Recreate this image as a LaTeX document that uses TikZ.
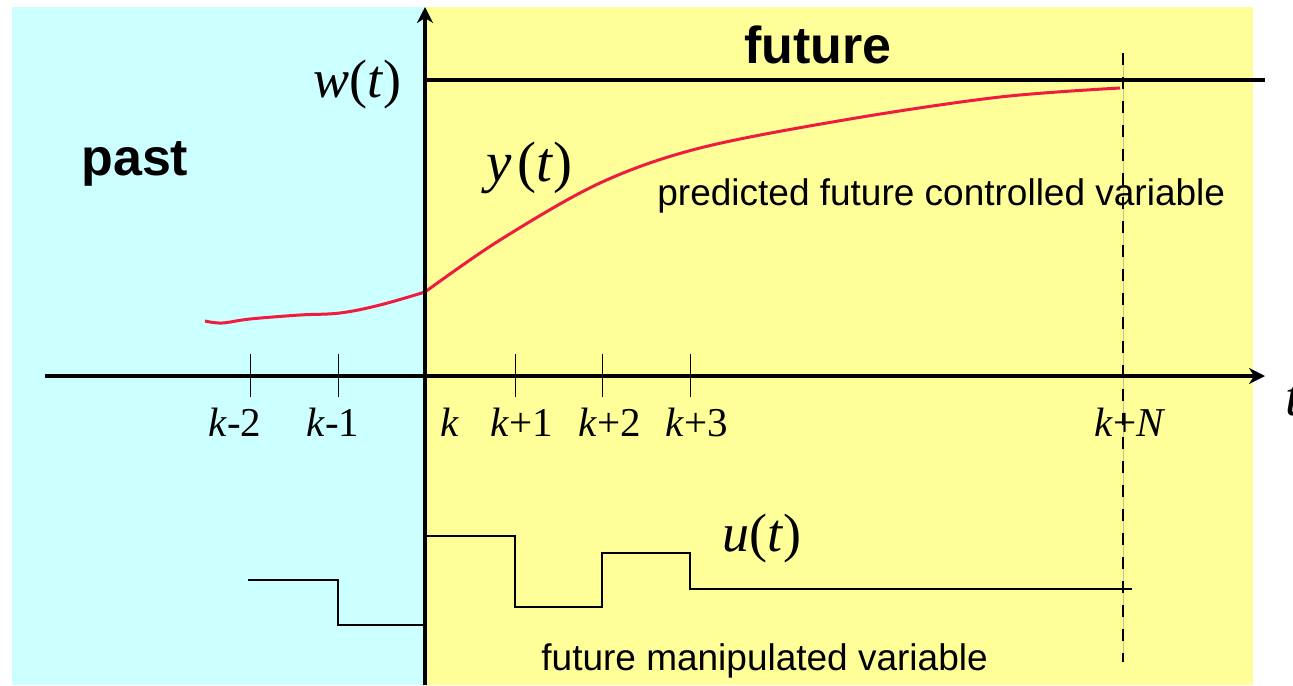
\documentclass[tikz,border=0pt]{standalone}
\usepackage{fontspec}
\setmainfont{Liberation Serif}
\setsansfont{Liberation Sans}
\usetikzlibrary{arrows.meta}

\definecolor{pastbg}{HTML}{CCFFFF}
\definecolor{futurebg}{HTML}{FFFF99}
\definecolor{predred}{HTML}{EE1D3F}
\definecolor{faintline}{HTML}{C8C27A}

\newcommand{\fsize}[1]{\fontsize{#1}{#1}\selectfont}

\begin{document}
\begin{tikzpicture}[x=0.5pt,y=-0.5pt,
  axis/.style={line width=2pt,-{Stealth[length=8pt,width=8pt,inset=2.5pt]}},
  setpoint/.style={line width=2pt},
  tick/.style={line width=0.5pt},
  horizon/.style={line width=0.9pt,dash pattern=on 6pt off 6pt},
  output/.style={predred,line width=1.5pt,line join=round},
  input/.style={line width=0.75pt},
  txt/.style={inner sep=0pt,anchor=base west},
  region/.style={txt,font=\sffamily\bfseries\fsize{26}},
  note/.style={txt,font=\sffamily\fsize{18.5}},
  signal/.style={txt,font=\fsize{27}},
  klabel/.style={inner sep=0pt,anchor=base,font=\fsize{20.5}}
]
\useasboundingbox (0,0) rectangle (1293,685);

% past / future areas
\fill[pastbg]   (12,7)  rectangle (425,685);
\fill[futurebg] (425,7) rectangle (1253,685);

% prediction horizon
\coordinate (hztop) at (1123,53);
\coordinate (hzbot) at (1123,662);
\draw[faintline,line width=0.3pt] (hztop) -- (hzbot);
\draw[horizon] (hztop) -- (hzbot);

% controlled variable y(t)
\draw[output] plot[smooth,tension=0.6] coordinates
  {(205,321) (222,323) (250,319) (300,315) (340,313) (380,305) (425,292)};
\draw[output] plot[smooth,tension=0.55] coordinates
  {(425,292) (500,240) (600,183) (700,148) (850,119) (1000,97) (1120,88)};

% manipulated variable u(t)
\draw[input] (248,580) -| (338,625) -- (425,625);
\draw[input] (425,536) -| (515,607) -| (602,553) -| (690,589) -- (1132,589);

% axes and reference w(t)
\coordinate (tmin) at (45,376);
\coordinate (tmax) at (1265,376);
\coordinate (ybot) at (425,685);
\coordinate (ytop) at (425,7);
\coordinate (wstart) at (425,80);
\coordinate (wend) at (1265,80);
\draw[setpoint] (wstart) -- (wend);
\draw[axis] (tmin) -- (tmax);
\draw[axis] (ybot) -- (ytop);

% sampling instants
\foreach \x in {250,338,515,602,690}
  \draw[tick] (\x,354) -- (\x,397);
\foreach \cx/\lbl [count=\i] in {235/{\textit{k}-2},333/{\textit{k}-1},450/{\textit{k}},
    522/{\textit{k}+1},610/{\textit{k}+2},697/{\textit{k}+3},1130/{\textit{k}+\textit{N}}}
  \node[klabel] (k\i) at (\cx,436) {\lbl};

% labels
\node[region] (past)   at (81,175)  {past};
\node[region] (future) at (744,63)  {future};
\node[signal] (wlbl)   at (313,97)  {\textit{w}(\textit{t})};
\node[signal,font=\fsize{28.5}] (ylbl) at (486,181) {\textit{y}\hspace{3pt}(\textit{t})};
\node[signal] (ulbl)   at (722,551) {\textit{u}(\textit{t})};
\node[signal,font=\fsize{28}] (tlbl) at (1285,415) {\textit{t}};
\node[note] (ydesc) at (657,205) {predicted future controlled variable};
\node[note] (udesc) at (541,670) {future manipulated variable};
\end{tikzpicture}
\end{document}
